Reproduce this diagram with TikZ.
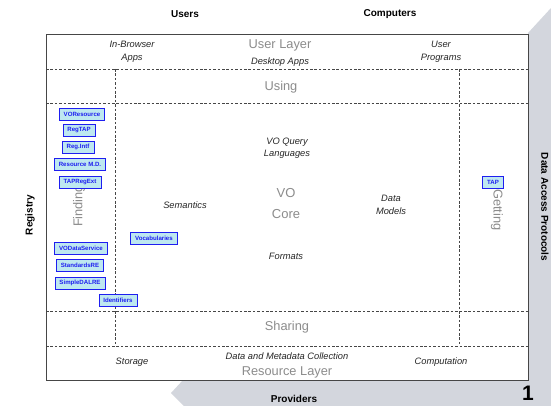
\documentclass[tikz,border=0pt]{standalone}
\usepackage{fontspec}
\setmainfont{Liberation Sans}
\definecolor{bandgray}{RGB}{211,214,221}
\definecolor{framegray}{RGB}{70,70,70}
\definecolor{layergray}{RGB}{140,140,140}
\definecolor{stdfill}{RGB}{190,232,240}
\definecolor{stdblue}{RGB}{30,30,240}
\tikzset{
  side/.style={font=\bfseries\fontsize{10}{12}\selectfont},
  topic/.style={font=\itshape\fontsize{9.3}{12.5}\selectfont, align=center, text=black!85, inner sep=1pt},
  layer/.style={font=\fontsize{12.8}{15}\selectfont, text=layergray, align=center, inner sep=1pt},
  sep/.style={draw=framegray, dash pattern=on 2.6pt off 1.8pt, line width=0.6pt},
  stdbox/.style={draw=stdblue, fill=stdfill, line width=0.7pt, text=stdblue,
    font=\bfseries\fontsize{6.1}{6.5}\selectfont, inner xsep=4.5pt, minimum height=12pt, inner ysep=1pt},
}
\begin{document}
\begin{tikzpicture}[x=1pt,y=-1pt]
\useasboundingbox (0,0) rectangle (551,406);
\clip (0,0) rectangle (551,406);
% background band behind the frame
\fill[bandgray] (551,8) -- (528,33) -- (528,380) -- (183,380) -- (171,393) -- (184,406) -- (551,406) -- cycle;
% main frame
\draw[framegray, fill=white, line width=0.9pt] (46,34) rectangle (528,380);
% layer separators
\coordinate (h1l) at (46,69);  \coordinate (h1r) at (528,69);
\coordinate (h2l) at (46,103); \coordinate (h2r) at (528,103);
\coordinate (h3l) at (46,311); \coordinate (h3r) at (528,311);
\coordinate (h4l) at (46,346); \coordinate (h4r) at (528,346);
\coordinate (v1t) at (115,69); \coordinate (v1b) at (115,346);
\coordinate (v2t) at (459,69); \coordinate (v2b) at (459,346);
\draw[sep] (h1l) -- (h1r);
\draw[sep] (h2l) -- (h2r);
\draw[sep] (h3l) -- (h3r);
\draw[sep] (h4l) -- (h4r);
\draw[sep] (v1t) -- (v1b);
\draw[sep] (v2t) -- (v2b);
% outer labels
\node[side] (users) at (185,14) {Users};
\node[side] (computers) at (390,14) {Computers};
\node[side, rotate=90] (registry) at (30,215) {Registry};
\node[side, rotate=-90] (dap) at (545,207) {Data Access Protocols};
\node[side] (providers) at (294,399) {Providers};
\node[font=\bfseries\fontsize{21}{21}\selectfont, anchor=north, inner sep=0pt] (num) at (528,386) {1};
% user layer
\node[topic] (browser) at (132,52) {In-Browser\\Apps};
\node[layer] (userlayer) at (280,45) {User Layer};
\node[topic] (desktop) at (280,62) {Desktop Apps};
\node[topic] (progs) at (441,52) {User\\Programs};
\node[layer] (using) at (281,87) {Using};
% core
\node[topic] (vql) at (287,148) {VO Query\\Languages};
\node[layer, font=\fontsize{13}{21}\selectfont] (core) at (286,204) {VO\\Core};
\node[topic] (semantics) at (185,205) {Semantics};
\node[topic] (models) at (391,205) {Data\\Models};
\node[topic] (formats) at (286,256) {Formats};
\node[layer, rotate=90] (finding) at (79,206) {Finding};
\node[layer, rotate=-90] (getting) at (497,210) {Getting};
% resource layer
\node[layer] (sharing) at (287,327) {Sharing};
\node[topic] (storage) at (132,362) {Storage};
\node[topic] (collect) at (287,356) {Data and Metadata Collection};
\node[layer] (reslayer) at (287,372) {Resource Layer};
\node[topic] (comp) at (441,362) {Computation};
% standards
\node[stdbox] (voresource) at (82,114) {VOResource};
\node[stdbox] (regtap) at (79,130) {RegTAP};
\node[stdbox] (regintf) at (78,147) {Reg.Intf};
\node[stdbox] (resmd) at (80,164) {Resource M.D.};
\node[stdbox] (tapregext) at (80,182) {TAPRegExt};
\node[stdbox] (vocab) at (154,238) {Vocabularies};
\node[stdbox] (vods) at (81,248) {VODataService};
\node[stdbox] (stdre) at (80,265) {StandardsRE};
\node[stdbox] (sdalre) at (80,283) {SimpleDALRE};
\node[stdbox] (ident) at (118,300) {Identifiers};
\node[stdbox] (tap) at (493,182) {TAP};
\end{tikzpicture}
\end{document}
